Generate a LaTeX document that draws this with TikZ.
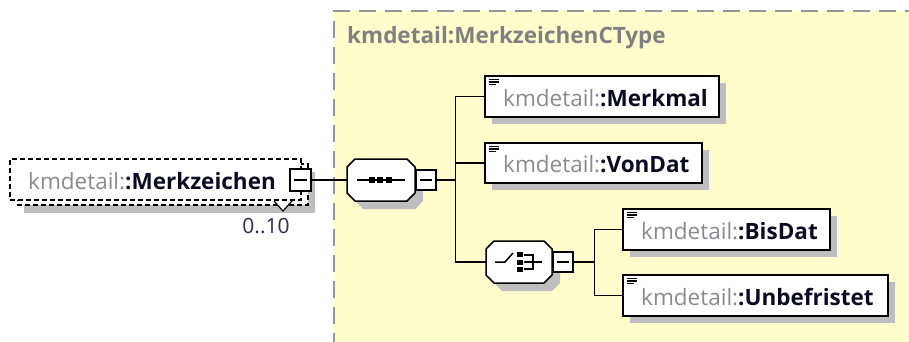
\documentclass[tikz,border=0pt]{standalone}
\usepackage{fontspec}
\setmainfont{Open Sans}
\usetikzlibrary{calc}
\definecolor{ybg}{RGB}{255,253,204}
\definecolor{shd}{RGB}{190,190,190}
\definecolor{pfx}{RGB}{140,138,145}
\definecolor{nm}{RGB}{10,10,35}
\definecolor{ttl}{RGB}{128,128,128}
\definecolor{mult}{RGB}{45,45,90}
\definecolor{cborder}{RGB}{150,150,150}
\newcommand\pf[1]{{\color{pfx}kmdetail:}{\color{nm}\bfseries :#1}}
\tikzset{
  conn/.style={line width=1.6pt, black},
  elem/.style={draw, line width=1.6pt, fill=white, inner sep=0pt},
  lbl/.style={inner sep=0pt, font=\fontsize{22.5}{26}\selectfont},
  icon/.style={line width=1.2pt},
  octo/.style={draw, line width=1.5pt, fill=white},
  minusb/.style={draw, line width=1.3pt, fill=white, inner sep=0pt},
}
% element box: name x1 y1 x2 y2 text
\newcommand\elembox[6]{%
  \fill[shd] ({#2+7},{#3+7}) rectangle ({#4+7},{#5+7});
  \node[elem, minimum width={#4-#2}, minimum height={#5-#3}] (#1) at ({(#2+#4)/2},{(#3+#5)/2}) {};
  \draw[icon] ({#2+4},{#3+3.5}) -- ++(10,0) ({#2+4},{#3+6}) -- ++(10,0) ({#2+4},{#3+8.5}) -- ++(7,0);
  \node[lbl, anchor=west] (#1-t) at ({#2+18},{(#3+#5)/2+1.5}) {\pf{#6}};
}
% octagon: name x1 y1 x2 y2
\newcommand\octa[5]{%
  \fill[shd] ({#2+16},{#3+8}) -- ({#4},{#3+8}) -- ({#4+8},{#3+16}) -- ({#4+8},{#5}) -- ({#4},{#5+8}) -- ({#2+16},{#5+8}) -- ({#2+8},{#5}) -- ({#2+8},{#3+16}) -- cycle;
  \draw[octo] ({#2+8},{#3}) -- ({#4-8},{#3}) -- ({#4},{#3+8}) -- ({#4},{#5-8}) -- ({#4-8},{#5}) -- ({#2+8},{#5}) -- ({#2},{#5-8}) -- ({#2},{#3+8}) -- cycle;
  \node[inner sep=0pt, minimum width={#4-#2}, minimum height={#5-#3}] (#1) at ({(#2+#4)/2},{(#3+#5)/2}) {};
}
% minus box: name x1 y1 x2 y2
\newcommand\minusbox[5]{%
  \node[minusb, minimum width={#4-#2}, minimum height={#5-#3}] (#1) at ({(#2+#4)/2},{(#3+#5)/2}) {};
  \draw[line width=1.3pt] ({#2+4},{(#3+#5)/2}) -- ({#4-4},{(#3+#5)/2});
}
\begin{document}
\begin{tikzpicture}[x=1pt,y=-1pt]
\useasboundingbox (0,0) rectangle (909,342);
% container
\fill[ybg] (334,11) rectangle (915,350);
\draw[cborder, line width=1.6pt, dash pattern=on 17pt off 9pt] (334,350) -- (334,11) -- (915,11);
\node[inner sep=0pt, anchor=west, font=\fontsize{22.5}{26}\selectfont\bfseries, text=ttl] (title) at (347,38) {kmdetail:MerkzeichenCType};

% Merkzeichen element (repeated)
\fill[shd] (24,172) rectangle (315,213);
\draw[line width=1.2pt, dash pattern=on 5pt off 3pt, fill=white] (18,164) rectangle (308,205);
\node[draw, line width=1.2pt, dash pattern=on 5pt off 3pt, fill=white, minimum width=291, minimum height=41, inner sep=0pt] (mz) at (155.5,179.5) {};
\node[lbl, anchor=west] (mz-t) at (28,181.5) {\pf{Merkzeichen}};
\fill[white] (274,201) -- (292,201) -- (283,211) -- cycle;
\draw[line width=1.2pt] (274,201) -- (283,211) -- (292,201);
\node[inner sep=0pt, font=\fontsize{21}{24}\selectfont, text=mult] (mult) at (266,226) {0..10};
\minusbox{mzm}{290}{169}{311}{191}

% sequence
\octa{seq}{347}{159}{415}{201}
\draw[line width=1.5pt] (357,180) -- (405,180);
\foreach \cx in {371.5,380,388.5} \fill (\cx-3,177) rectangle (\cx+3,183);
\minusbox{seqm}{416}{170}{436}{190}

% choice
\octa{cho}{486}{241}{552}{283}
\draw[line width=1.5pt] (495,262) -- (505,262) -- (513,253);
\foreach \cy in {252,259.5,267} \fill (517,\cy) rectangle (522.5,\cy+5);
\draw[line width=1.5pt] (524,255) -- (533,255) -- (533,269) -- (524,269) (524,262) -- (542,262);
\minusbox{chom}{553}{252}{573}{272}

% elements
\elembox{merkmal}{485}{76}{719}{117}{Merkmal}
\elembox{vondat}{485}{143}{702}{183}{VonDat}
\elembox{bisdat}{623}{209}{830}{250}{BisDat}
\elembox{unbef}{623}{275}{888}{316}{Unbefristet}

% connectors
\draw[conn] (mzm.east) -- (seq.west);
\draw[conn] (seqm.east) -- ++(19,0) coordinate (j1);
\draw[conn] (merkmal.west) -| (j1);
\draw[conn] (cho.west) -| (j1);
\draw[conn] (vondat.west) -- (vondat.west -| j1);
\draw[conn] (chom.east) -- ++(21,0) coordinate (j2);
\draw[conn] (bisdat.west) -| (j2);
\draw[conn] (unbef.west) -| (j2);
\end{tikzpicture}
\end{document}
